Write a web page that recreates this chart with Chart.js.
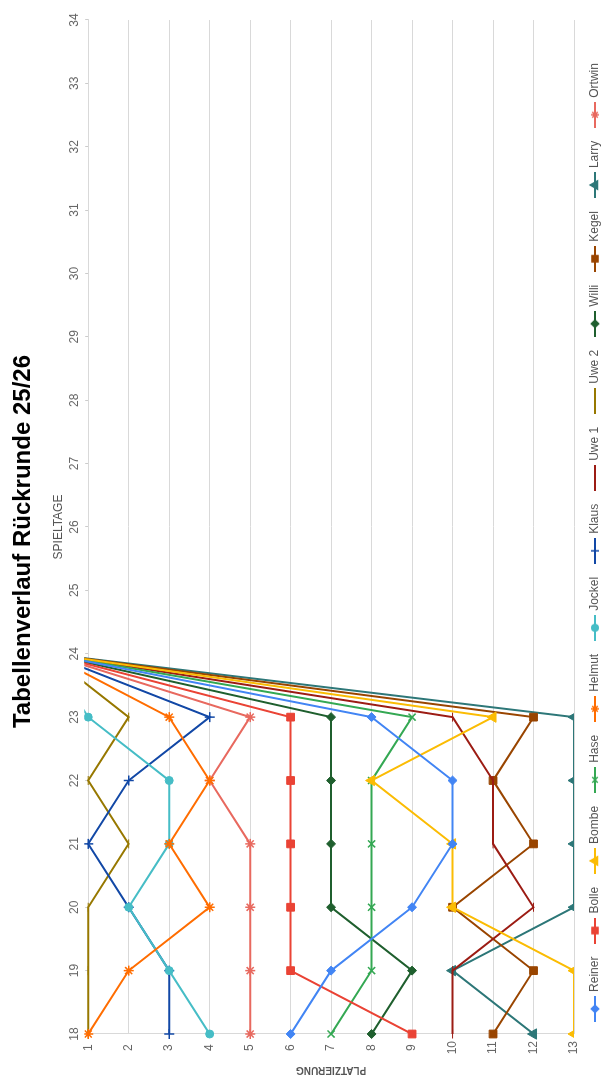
<!DOCTYPE html>
<html lang="de">
<head>
<meta charset="utf-8">
<title>Tabellenverlauf Rückrunde 25/26</title>
<script src="https://cdn.jsdelivr.net/npm/chart.js"></script>
<style>
  html, body { margin: 0; padding: 0; background: #fff; overflow: hidden; }
  /* Das Diagramm wird quer gezeichnet und um 90° gedreht */
  #rahmen {
    position: absolute;
    left: 0;
    top: 0;
    width: 1083px;
    height: 613px;
    transform-origin: 0 0;
    transform: translate(0, 1083px) rotate(-90deg);
  }
</style>
</head>
<body>
<div id="rahmen"><canvas id="verlauf" width="1083" height="613"></canvas></div>
<script>
// ******************************* DATEN ****************************
/**
 * Spieltage der Rückrunde (ab Spieltag 24 noch nicht gespielt = 0)
 */
const spieltage = ["18", "19", "20", "21", "22", "23", "24", "25", "26",
  "27", "28", "29", "30", "31", "32", "33", "34"];

const spieler = ["Reiner", "Bolle", "Bombe", "Hase", "Helmut", "Jockel",
  "Klaus", "Uwe 1", "Uwe 2", "Willi", "Kegel", "Larry", "Ortwin"];

const reiner = [6, 7, 9, 10, 10, 8, 0, 0, 0, 0, 0, 0, 0, 0, 0, 0, 0];
const bolle = [9, 6, 6, 6, 6, 6, 0, 0, 0, 0, 0, 0, 0, 0, 0, 0, 0];
const bombe = [13, 13, 10, 10, 8, 11, 0, 0, 0, 0, 0, 0, 0, 0, 0, 0, 0];
const hase = [7, 8, 8, 8, 8, 9, 0, 0, 0, 0, 0, 0, 0, 0, 0, 0, 0];
const helmut = [1, 2, 4, 3, 4, 3, 0, 0, 0, 0, 0, 0, 0, 0, 0, 0, 0];
const jockel = [4, 3, 2, 3, 3, 1, 0, 0, 0, 0, 0, 0, 0, 0, 0, 0, 0];
const klaus = [3, 3, 2, 1, 2, 4, 0, 0, 0, 0, 0, 0, 0, 0, 0, 0, 0];
const uwe1 = [10, 10, 12, 11, 11, 10, 0, 0, 0, 0, 0, 0, 0, 0, 0, 0, 0];
const uwe2 = [1, 1, 1, 2, 1, 2, 0, 0, 0, 0, 0, 0, 0, 0, 0, 0, 0];
const willi = [8, 9, 7, 7, 7, 7, 0, 0, 0, 0, 0, 0, 0, 0, 0, 0, 0];
const kegel = [11, 12, 10, 12, 11, 12, 0, 0, 0, 0, 0, 0, 0, 0, 0, 0, 0];
const larry = [12, 10, 13, 13, 13, 13, 0, 0, 0, 0, 0, 0, 0, 0, 0, 0, 0];
const ortwin = [5, 5, 5, 5, 4, 5, 0, 0, 0, 0, 0, 0, 0, 0, 0, 0, 0];

const verlaeufe = [reiner, bolle, bombe, hase, helmut, jockel, klaus,
  uwe1, uwe2, willi, kegel, larry, ortwin];

// ******************************* AUSSEHEN ****************************
const farben = ["#4285f4", "#ea4335", "#fbbc04", "#34a853", "#ff6d01", "#46bdc6",
  "#1248a6", "#9c1c14", "#977800", "#1f5f2e", "#994500", "#2d7778", "#e8695f"];

const stile = ["rectRot", "rect", "triangle", "crossRot", "star", "circle",
  "cross", "line", "line", "rectRot", "rect", "triangle", "star"];

const radien = [4.5, 5.5, 6, 5, 5, 4, 5, 4.5, 4.5, 4.5, 5.5, 6, 5];

const schrift = "'Liberation Sans', Arial, sans-serif";

/**
 * Kleines Bild für die Legende: Linie mit Markierung in der Mitte
 */
function legendenSymbol(farbe, stil, radius) {
  let bild = document.createElement("canvas");
  bild.width = 26;
  bild.height = 14;
  let ctx = bild.getContext("2d");
  ctx.strokeStyle = farbe;
  ctx.fillStyle = farbe;
  ctx.lineWidth = 2;
  ctx.beginPath();
  ctx.moveTo(0, 7);
  ctx.lineTo(26, 7);
  ctx.stroke();
  if (stil !== "line") {
    ctx.lineWidth = 1.5;
    Chart.helpers.drawPoint(ctx, {
      pointStyle: stil,
      radius: radius * 0.8,
      rotation: 0,
      borderWidth: 1.5,
    }, 13, 7);
  }
  return bild;
}

const symbole = spieler.map(function (name, i) {
  return legendenSymbol(farben[i], stile[i], radien[i]);
});

// ******************************* DIAGRAMM ****************************
function ladeVerlauf() {
  Chart.defaults.font.family = schrift;

  let datensaetze = spieler.map(function (name, i) {
    return {
      label: name,
      data: verlaeufe[i],
      borderColor: farben[i],
      backgroundColor: farben[i],
      borderWidth: 2,
      pointStyle: stile[i],
      pointRadius: radien[i],
      pointHoverRadius: radien[i],
      pointBorderWidth: stile[i] === "star" || stile[i] === "crossRot" || stile[i] === "cross" ? 1.5 : 1,
      tension: 0,
      clip: { left: 6, top: 4, right: 6, bottom: 0 },
    };
  });

  new Chart(document.getElementById("verlauf"), {
    type: "line",
    data: {
      labels: spieltage,
      datasets: datensaetze,
    },
    options: {
      responsive: false,
      animation: false,
      events: [],
      layout: { padding: { bottom: 2 } },
      plugins: {
        title: {
          display: true,
          text: "Tabellenverlauf Rückrunde 25/26",
          color: "#000",
          font: { size: 24, weight: "bold" },
          padding: { top: 9, bottom: 3 },
        },
        legend: {
          position: "bottom",
          labels: {
            usePointStyle: true,
            pointStyleWidth: 22,
            padding: 15,
            color: "#555",
            font: { size: 12 },
            generateLabels: function (chart) {
              let eintraege = Chart.defaults.plugins.legend.labels.generateLabels(chart);
              eintraege.forEach(function (e) {
                e.pointStyle = symbole[e.datasetIndex];
              });
              return eintraege;
            },
          },
        },
        tooltip: { enabled: false },
      },
      scales: {
        x: {
          position: "top",
          title: {
            display: true,
            text: "SPIELTAGE",
            color: "#555",
            font: { size: 12, lineHeight: 1 },
            padding: { top: 12, bottom: 0 },
          },
          ticks: { color: "#666", font: { size: 12 }, padding: 3, maxRotation: 0, autoSkip: false },
          grid: { drawOnChartArea: false, drawTicks: true, tickLength: 3, color: "#cccccc" },
          border: { color: "#d9d9d9" },
          afterFit: function (scale) {
            scale.paddingRight = 20;
          },
        },
        y: {
          min: 1,
          max: 13,
          reverse: true,
          title: {
            display: true,
            text: "PLATZIERUNG",
            color: "#555",
            font: { size: 10, weight: "bold" },
            padding: { top: 7, bottom: 4 },
          },
          ticks: { stepSize: 1, color: "#666", font: { size: 12 }, padding: 7, crossAlign: "center" },
          grid: { color: "#d9d9d9", drawTicks: false },
          border: { color: "#d9d9d9" },
          afterFit: function (scale) {
            scale.width = 49;
          },
        },
      },
    },
  });
}

ladeVerlauf();
</script>
</body>
</html>
